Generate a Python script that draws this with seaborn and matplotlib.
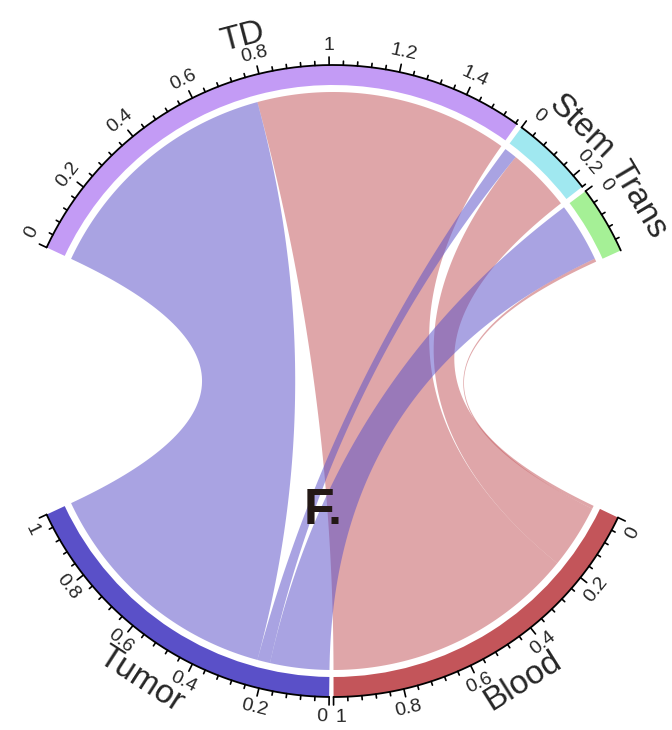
import numpy as np
import pandas as pd
import matplotlib.pyplot as plt
import seaborn as sns
from matplotlib.patches import Polygon, Wedge

# chord matrix: rows -> columns
from_rows = ["Blood", "Tumor"]
to_cols = ["TD", "Stem", "Trans"]
blood_links = [0.79, 0.20, 0.01]
tumor_links = [0.775, 0.04, 0.185]

sectors = ["TD", "Stem", "Trans", "Blood", "Tumor"]
sector_colors = ["#C39BF5", "#A0E8F0", "#A5F096", "#C3555A", "#5A50C8"]

mat = pd.DataFrame([blood_links, tumor_links], index=from_rows, columns=to_cols)

sns.set_style("white")
plt.rcParams['font.family'] = ['Liberation Sans', 'DejaVu Sans']

# layout (pixel units)
W, H = 672, 730
cx, cy = 333, 349
r_out, r_in, r_link = 316, 296, 289
gap_after = {"TD": 1.0, "Stem": 1.0, "Trans": 50.0, "Blood": 0.8, "Tumor": 50.0}
start_deg = 155.0
tick_fs = 14
em_px = tick_fs * 100 / 72

totals = {}
for s in sectors:
    if s in mat.index:
        totals[s] = mat.loc[s].sum()
    else:
        totals[s] = mat[s].sum()

deg_per = (360 - sum(gap_after.values())) / sum(totals.values())
sec_start = {}
cur = start_deg
for s in sectors:
    sec_start[s] = cur
    cur = cur - totals[s] * deg_per - gap_after[s]


def ang(s, v):
    return sec_start[s] - v * deg_per


def pt(theta, r):
    t = np.deg2rad(theta)
    return np.array([cx + r * np.cos(t), cy + r * np.sin(t)])


# position of each link inside its sectors
n = len(sectors)
link_pos = {}
for i, s in enumerate(sectors):
    partners = []
    for j, o in enumerate(sectors):
        if s in mat.index and o in mat.columns:
            v = mat.loc[s, o]
        elif o in mat.index and s in mat.columns:
            v = mat.loc[o, s]
        else:
            continue
        if v > 0:
            partners.append(((j - i) % n, o, v))
    partners.sort(reverse=True)
    off = 0.0
    for _, o, v in partners:
        link_pos[(s, o)] = (off, off + v)
        off += v


def bezier(p0, p2, num=80):
    t = np.linspace(0, 1, num)[:, None]
    c = np.array([cx, cy])
    return (1 - t) ** 2 * p0 + 2 * (1 - t) * t * c + t ** 2 * p2


def arc(theta0, theta1, r, num=60):
    th = np.linspace(theta0, theta1, num)
    return np.array([pt(a, r) for a in th])


fig = plt.figure(figsize=(W / 100, H / 100), dpi=100)
ax = fig.add_axes([0, 0, 1, 1])
ax.set_xlim(0, W)
ax.set_ylim(0, H)
ax.set_aspect("equal")
ax.axis("off")

# chords, red first then blue on top
for row in ["Blood", "Tumor"]:
    col_c = sector_colors[sectors.index(row)]
    for col in to_cols:
        a0, a1 = link_pos[(row, col)]
        b0, b1 = link_pos[(col, row)]
        A0, A1 = ang(row, a0), ang(row, a1)
        B0, B1 = ang(col, b0), ang(col, b1)
        pts = np.vstack([
            arc(A0, A1, r_link),
            bezier(pt(A1, r_link), pt(B0, r_link)),
            arc(B0, B1, r_link),
            bezier(pt(B1, r_link), pt(A0, r_link)),
        ])
        ax.add_patch(Polygon(pts, closed=True, facecolor=col_c, alpha=0.52,
                             edgecolor="none", zorder=2))


def rot(theta):
    th = theta % 360
    return th - 90 if th < 180 else th + 90


# tracks, axis and labels
r_lab = r_out + 20
for s, c in zip(sectors, sector_colors):
    t0, t1 = ang(s, totals[s]), ang(s, 0)
    ax.add_patch(Wedge((cx, cy), r_out, t0, t1, width=r_out - r_in,
                       facecolor=c, edgecolor="none", zorder=3))
    base = arc(t1, t0, r_out)
    ax.plot(base[:, 0], base[:, 1], color="black", lw=1.3, zorder=4)
    vals = np.arange(0, totals[s] + 1e-9, 0.04)
    for v in vals:
        major = abs(v / 0.2 - round(v / 0.2)) < 1e-6
        th = ang(s, v)
        p1 = pt(th, r_out)
        p2 = pt(th, r_out + (8 if major else 4))
        ax.plot([p1[0], p2[0]], [p1[1], p2[1]], color="black", lw=1.2, zorder=4)
        if major:
            lab = f"{round(v, 2):g}"
            # keep edge labels inside their sector
            half = 0.5 * em_px * (0.556 * sum(ch.isdigit() for ch in lab) + 0.278 * ("." in lab))
            shift = np.rad2deg((half + 2) / r_lab)
            th_l = th
            if v < 1e-6:
                th_l = th - shift
            elif abs(v - totals[s]) < 1e-6:
                th_l = th + shift
            q = pt(th_l, r_lab)
            ax.text(q[0], q[1], lab, fontsize=tick_fs, rotation=rot(th_l),
                    ha="center", va="center", rotation_mode="anchor")
    mid = ang(s, totals[s] / 2)
    q = pt(mid, 355)
    ax.text(q[0], q[1], s, fontsize=24, rotation=rot(mid),
            ha="center", va="center", rotation_mode="anchor")

ax.text(323, H - 511, "F.", fontsize=36, fontweight="bold", color="#231815",
        ha="center", va="center", zorder=5)

fig.savefig("out.png", dpi=100)
